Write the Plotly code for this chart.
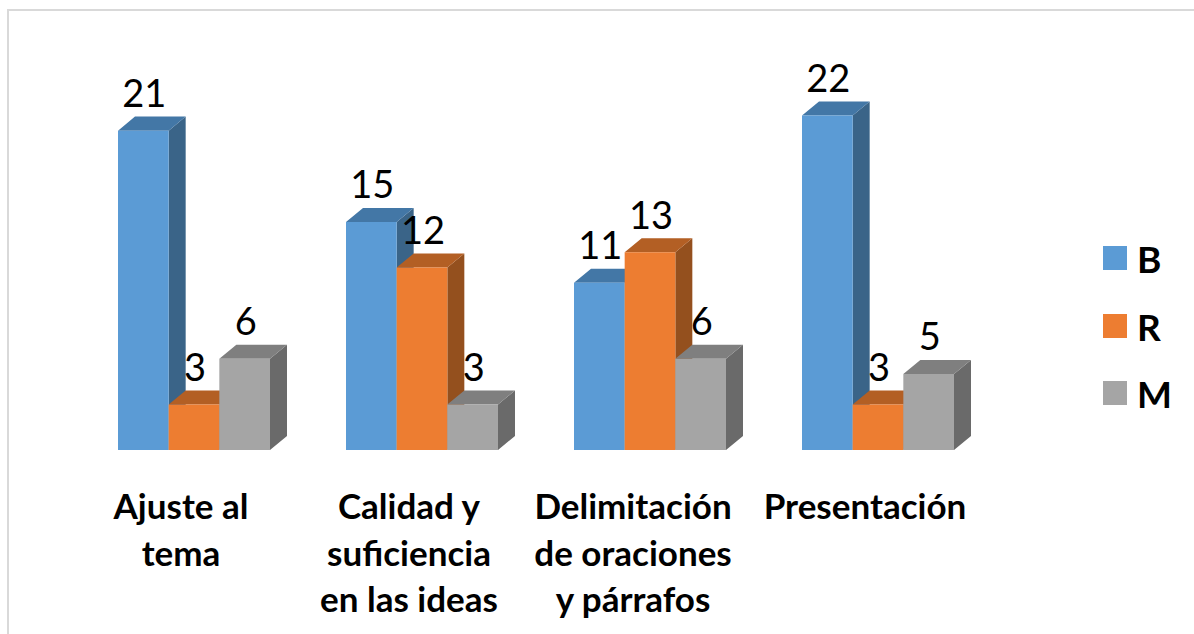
import plotly.graph_objects as go

categories = ["Ajuste al<br>tema", "Calidad y<br>suficiencia<br>en las ideas",
              "Delimitación<br>de oraciones<br>y párrafos", "Presentación"]
series_names = ["B", "R", "M"]
values_b = [21, 15, 11, 22]
values_r = [3, 12, 13, 3]
values_m = [6, 3, 6, 5]
series_values = [values_b, values_r, values_m]
front_colors = ["#5B9BD5", "#ED7D31", "#A5A5A5"]
side_colors = ["#3A6488", "#94501E", "#6A6A6A"]
top_colors = ["#4377A6", "#B35F24", "#7F7F7F"]

W, H = 1194, 634
ML, MR, MT, MB = 80, 202, 85, 184
PW, PH = W - ML - MR, H - MT - MB
Y_MAX = 24
X_MIN, X_MAX = -0.5, 3.5
BAR_W = (1 - 1 / 3) / 3
PX_PER_CAT = PW / (X_MAX - X_MIN)
DX = 17 / PX_PER_CAT
DY = 14 / (PH / Y_MAX)
LABEL_SHIFTS = [-13 / PX_PER_CAT, -13 / PX_PER_CAT, -17 / PX_PER_CAT, -13 / PX_PER_CAT]

def pxx(p):
    return (p - ML) / PW

def pxy(p):
    return (H - MB - p) / PH

fig = go.Figure()

# depth faces, on the lower axes
for j, (name, vals) in enumerate(zip(series_names, series_values)):
    sx, sy, tx, ty = [], [], [], []
    for i, v in enumerate(vals):
        left = i + (j - 1.5) * BAR_W
        right = left + BAR_W
        sx += [right, right + DX, right + DX, right, right, None]
        sy += [0, DY, v + DY, v, 0, None]
        tx += [left, left + DX, right + DX, right, left, None]
        ty += [v, v + DY, v + DY, v, v, None]
    fig.add_trace(go.Scatter(x=sx, y=sy, mode="lines", fill="toself", fillcolor=side_colors[j],
                             line=dict(width=0, color=side_colors[j]), hoverinfo="skip", showlegend=False,
                             xaxis="x", yaxis="y"))
    fig.add_trace(go.Scatter(x=tx, y=ty, mode="lines", fill="toself", fillcolor=top_colors[j],
                             line=dict(width=0, color=top_colors[j]), hoverinfo="skip", showlegend=False,
                             xaxis="x", yaxis="y"))

# front faces
xs = list(range(len(categories)))
for j, (name, vals) in enumerate(zip(series_names, series_values)):
    fig.add_trace(go.Bar(x=xs, y=vals, name=name, marker=dict(color=front_colors[j], line=dict(width=0)),
                         showlegend=False, xaxis="x2", yaxis="y2"))

# value labels
for j, (name, vals) in enumerate(zip(series_names, series_values)):
    fig.add_trace(go.Scatter(x=[i + (j - 1) * BAR_W + 1 / PX_PER_CAT for i in xs], y=[v + DY for v in vals],
                             mode="text", text=[str(v) for v in vals], textposition="top center",
                             cliponaxis=False,
                             textfont=dict(family="Lato", size=38, color="#000000"),
                             hoverinfo="skip", showlegend=False, xaxis="x2", yaxis="y2"))

tick_text = ['<span style="font-size:35px">' + c.replace("<br>", '</span><br><span style="font-size:35px">') + "</span>"
             for c in categories]

shapes = [dict(type="rect", xref="paper", yref="paper", x0=pxx(8), x1=pxx(1210), y0=pxy(10), y1=pxy(650),
               line=dict(color="#D9D9D9", width=2), layer="below")]
annotations = []
for name, color, y0 in zip(series_names, front_colors, [246, 314, 381]):
    shapes.append(dict(type="rect", xref="paper", yref="paper", x0=pxx(1103), x1=pxx(1127),
                       y0=pxy(y0), y1=pxy(y0 + 24), fillcolor=color, line=dict(width=0)))
    annotations.append(dict(text=name, xref="paper", yref="paper", x=pxx(1135), y=pxy(y0 + 12),
                            xanchor="left", yanchor="middle", showarrow=False,
                            font=dict(family="Lato", size=37, color="#000000", weight="bold")))

fig.update_layout(
    width=W, height=H, margin=dict(l=ML, r=MR, t=MT, b=MB, autoexpand=False),
    paper_bgcolor="#FFFFFF", plot_bgcolor="rgba(0,0,0,0)",
    barmode="group", bargap=1 / 3, bargroupgap=0,
    shapes=shapes, annotations=annotations, showlegend=False,
    xaxis=dict(range=[X_MIN, X_MAX], tickmode="array", tickvals=[i + s for i, s in zip(xs, LABEL_SHIFTS)],
               ticktext=tick_text,
               tickangle=0, showgrid=False, zeroline=False, showline=False, ticks="outside", ticklen=26,
               tickcolor="rgba(0,0,0,0)",
               tickfont=dict(family="Lato", size=35.4, color="#000000", weight="bold")),
    yaxis=dict(range=[0, Y_MAX], visible=False),
    xaxis2=dict(range=[X_MIN, X_MAX], overlaying="x", visible=False),
    yaxis2=dict(range=[0, Y_MAX], overlaying="y", visible=False),
)

fig.write_html("out.html", config=dict(displayModeBar=False),
               post_script="document.body.style.margin='0';document.documentElement.style.overflow='hidden';")
